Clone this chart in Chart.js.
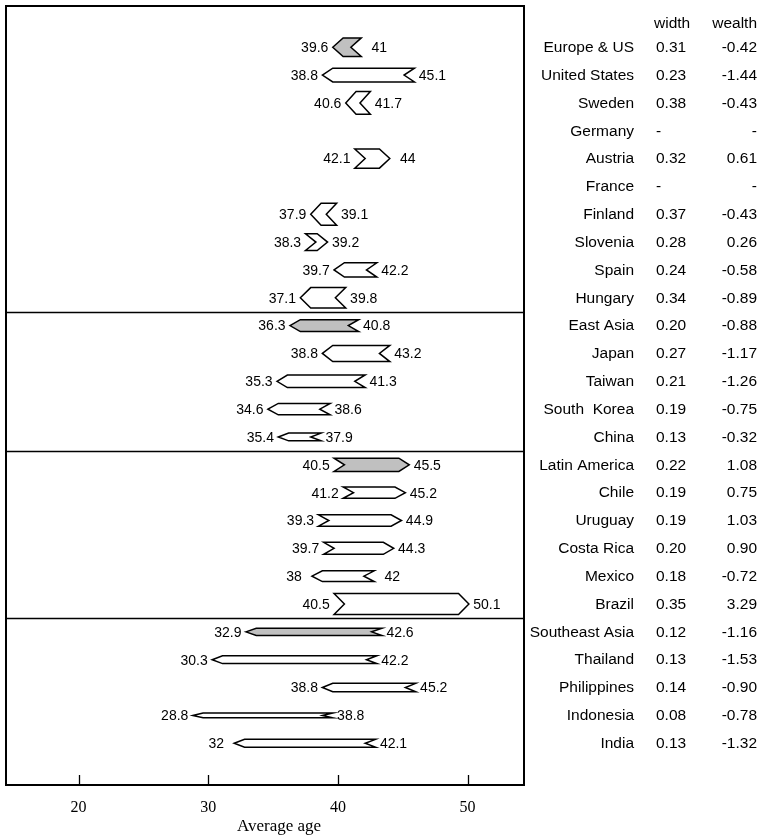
<!DOCTYPE html>
<html>
<head>
<meta charset="utf-8">
<script src="https://cdn.jsdelivr.net/npm/chart.js@4.4.1/dist/chart.umd.min.js"></script>
<style>
html,body{margin:0;padding:0;background:#fff;}
#wrap{width:765px;height:839px;}
</style>
</head>
<body>
<div id="wrap"><canvas id="c" width="765" height="839"></canvas></div>
<script>
// ---- data ----
const countries = ["Europe & US","United States","Sweden","Germany","Austria","France","Finland","Slovenia","Spain","Hungary",
  "East Asia","Japan","Taiwan","South  Korea","China",
  "Latin America","Chile","Uruguay","Costa Rica","Mexico","Brazil",
  "Southeast Asia","Thailand","Philippines","Indonesia","India"];
const regionRows = ["Europe & US","East Asia","Latin America","Southeast Asia"];
const lowAge  = [39.6,38.8,40.6,null,42.1,null,37.9,38.3,39.7,37.1, 36.3,38.8,35.3,34.6,35.4, 40.5,41.2,39.3,39.7,38,40.5, 32.9,30.3,38.8,28.8,32];
const highAge = [41,45.1,41.7,null,44,null,39.1,39.2,42.2,39.8, 40.8,43.2,41.3,38.6,37.9, 45.5,45.2,44.9,44.3,42,50.1, 42.6,42.2,45.2,38.8,42.1];
const widthVals  = [0.31,0.23,0.38,null,0.32,null,0.37,0.28,0.24,0.34, 0.20,0.27,0.21,0.19,0.13, 0.22,0.19,0.19,0.20,0.18,0.35, 0.12,0.13,0.14,0.08,0.13];
const wealthVals = [-0.42,-1.44,-0.43,null,0.61,null,-0.43,0.26,-0.58,-0.89, -0.88,-1.17,-1.26,-0.75,-0.32, 1.08,0.75,1.03,0.90,-0.72,3.29, -1.16,-1.53,-0.90,-0.78,-1.32];
const groupBreaks = [9.5, 14.5, 20.5];
const xTicks = [20,30,40,50];
const tableHeaders = ["width","wealth"];
const xTitle = "Average age";

// ---- styling constants ----
const SANS = '"Liberation Sans", Arial, sans-serif';
const SERIF = '"Liberation Serif", "DejaVu Serif", serif';
const HEIGHT_PER_WIDTH = 2.15;   // y units per unit of "width"
const HEAD = 0.8;                 // arrow head / notch length in years

const arrowPlugin = {
  id: 'arrowPlugin',
  afterDatasetsDraw(chart) {
    const {ctx, chartArea: a, scales: {x, y}} = chart;
    const xp = v => x.getPixelForValue(v);
    ctx.save();
    ctx.lineJoin = 'miter';
    // group separators
    ctx.strokeStyle = '#000';
    ctx.lineWidth = 1.6;
    groupBreaks.forEach(b => {
      const py = Math.round(y.getPixelForValue(b)) + 0.5;
      ctx.beginPath(); ctx.moveTo(a.left, py); ctx.lineTo(a.right, py); ctx.stroke();
    });
    // arrows
    const head = Math.abs(xp(HEAD) - xp(0));
    countries.forEach((name, i) => {
      const lo = lowAge[i], hi = highAge[i];
      if (lo == null || hi == null) return;
      const yc = y.getPixelForValue(i);
      const half = Math.abs(y.getPixelForValue(i + widthVals[i] * HEIGHT_PER_WIDTH / 2) - yc);
      const L = xp(lo), R = xp(hi);
      const toRight = wealthVals[i] > 0;
      let pts, leftExt, rightExt;
      if (!toRight) {
        pts = [[L, yc],[L+head, yc-half],[R+head, yc-half],[R, yc],[R+head, yc+half],[L+head, yc+half]];
        leftExt = L; rightExt = R + head;
      } else {
        pts = [[L-head, yc-half],[R-head, yc-half],[R, yc],[R-head, yc+half],[L-head, yc+half],[L, yc]];
        leftExt = L - head; rightExt = R;
      }
      ctx.beginPath();
      pts.forEach((p, k) => k ? ctx.lineTo(p[0], p[1]) : ctx.moveTo(p[0], p[1]));
      ctx.closePath();
      ctx.fillStyle = regionRows.includes(name) ? '#c0c0c0' : '#ffffff';
      ctx.fill();
      ctx.lineWidth = 1.5;
      ctx.strokeStyle = '#000';
      ctx.stroke();
      // value labels
      ctx.fillStyle = '#000';
      ctx.font = '14px ' + SANS;
      ctx.textBaseline = 'middle';
      ctx.textAlign = 'center';
      ctx.fillText(String(lo), leftExt - 18, yc + 1);
      ctx.fillText(String(hi), rightExt + 18, yc + 1);
    });
    ctx.restore();
  },
  afterDraw(chart) {
    const {ctx, chartArea: a, scales: {x, y}} = chart;
    ctx.save();
    // frame
    ctx.strokeStyle = '#000';
    ctx.lineWidth = 2;
    ctx.strokeRect(a.left, a.top, a.right - a.left, a.bottom - a.top);
    // inward tick marks
    ctx.lineWidth = 1.3;
    xTicks.forEach(v => {
      const px = Math.round(x.getPixelForValue(v)) + 0.5;
      ctx.beginPath(); ctx.moveTo(px, a.bottom); ctx.lineTo(px, a.bottom - 10); ctx.stroke();
    });
    // axis title
    ctx.fillStyle = '#000';
    ctx.font = '17px ' + SERIF;
    ctx.textAlign = 'center';
    ctx.textBaseline = 'middle';
    ctx.fillText(xTitle, (a.left + a.right) / 2 + 14, 827);
    // right-hand table
    ctx.font = '15.5px ' + SANS;
    const nameX = a.right + 110, widthX = a.right + 132, wealthX = a.right + 233;
    const hy = y.getPixelForValue(-0.85);
    ctx.textAlign = 'left'; ctx.fillText(tableHeaders[0], widthX - 2, hy);
    ctx.textAlign = 'right'; ctx.fillText(tableHeaders[1], wealthX, hy);
    countries.forEach((name, i) => {
      const py = y.getPixelForValue(i) + 0.5;
      ctx.textAlign = 'right';
      ctx.fillText(name, nameX, py);
      ctx.textAlign = 'left';
      ctx.fillText(widthVals[i] == null ? '-' : widthVals[i].toFixed(2), widthX, py);
      ctx.textAlign = 'right';
      ctx.fillText(wealthVals[i] == null ? '-' : wealthVals[i].toFixed(2), wealthX, py);
    });
    ctx.restore();
  }
};

const anchors = [];
countries.forEach((n, i) => { if (lowAge[i] != null) anchors.push({x: lowAge[i], y: i}); });

new Chart(document.getElementById('c'), {
  type: 'scatter',
  data: { datasets: [{ data: anchors, pointRadius: 0, pointHoverRadius: 0, showLine: false }] },
  options: {
    responsive: false,
    animation: false,
    devicePixelRatio: 1,
    layout: { padding: { left: 6, right: 241, top: 6, bottom: 0 } },
    plugins: { legend: { display: false }, tooltip: { enabled: false } },
    scales: {
      x: {
        type: 'linear', position: 'bottom', min: 14.4, max: 54.35,
        afterBuildTicks: s => { s.ticks = xTicks.map(v => ({ value: v })); },
        afterFit: s => { s.height = 54; },
        grid: { display: false, drawTicks: false },
        border: { display: false },
        ticks: { color: '#000', font: { family: SERIF, size: 16 }, padding: 13, maxRotation: 0, autoSkip: false },
        title: { display: false }
      },
      y: { type: 'linear', min: -1.48, max: 26.5, reverse: true, display: false }
    }
  },
  plugins: [arrowPlugin]
});
</script>
</body>
</html>
